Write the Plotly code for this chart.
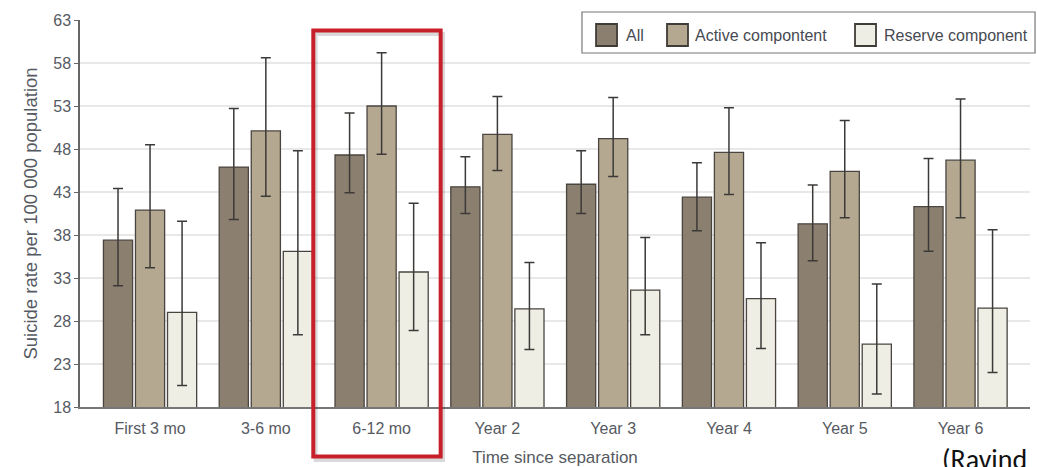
import plotly.graph_objects as go

categories = ["First 3 mo", "3-6 mo", "6-12 mo", "Year 2", "Year 3", "Year 4", "Year 5", "Year 6"]

all_vals = [37.4, 45.9, 47.3, 43.6, 43.9, 42.4, 39.3, 41.3]
all_hi = [43.4, 52.7, 52.2, 47.1, 47.8, 46.4, 43.8, 46.9]
all_lo = [32.1, 39.8, 42.9, 40.5, 40.5, 38.5, 35.0, 36.1]

active_vals = [40.9, 50.1, 53.0, 49.7, 49.2, 47.6, 45.4, 46.7]
active_hi = [48.5, 58.6, 59.2, 54.1, 54.0, 52.8, 51.3, 53.8]
active_lo = [34.2, 42.5, 47.4, 45.5, 44.8, 42.7, 40.0, 40.0]

reserve_vals = [29.0, 36.1, 33.7, 29.4, 31.6, 30.6, 25.3, 29.5]
reserve_hi = [39.6, 47.8, 41.7, 34.8, 37.7, 37.1, 32.3, 38.6]
reserve_lo = [20.5, 26.4, 26.9, 24.7, 26.4, 24.8, 19.5, 22.0]

y_ticks = [18, 23, 28, 33, 38, 43, 48, 53, 58, 63]

series_names = ["All", "Active compontent", "Reserve component"]
series_colors = ["#8b7f6f", "#b5a891", "#efeee4"]
series_data = [(all_vals, all_hi, all_lo), (active_vals, active_hi, active_lo), (reserve_vals, reserve_hi, reserve_lo)]

FONT = "Liberation Sans, Arial, sans-serif"
TXT = "#565a62"
EDGE = "#4a4540"

fig = go.Figure()
for name, col, (vals, hi, lo) in zip(series_names, series_colors, series_data):
    fig.add_trace(go.Bar(
        name=name, x=categories, y=vals, showlegend=False,
        marker=dict(color=col, line=dict(color=EDGE, width=1.3)),
        error_y=dict(type="data", symmetric=False,
                     array=[h - v for h, v in zip(hi, vals)],
                     arrayminus=[v - l for v, l in zip(vals, lo)],
                     color="#3c3a38", thickness=1.5, width=5),
    ))

fig.update_layout(
    width=1037, height=467,
    margin=dict(l=80, r=7, t=20, b=60.3),
    paper_bgcolor="white", plot_bgcolor="white",
    barmode="group", bargap=0.17, bargroupgap=0.09,
    font=dict(family=FONT, size=15, color=TXT),
    showlegend=False,
)

fig.update_xaxes(
    range=[-0.605, 7.6], showline=True, linecolor="#777777", linewidth=1.5,
    ticks="", showgrid=False, ticklabelstandoff=6, automargin=False,
    tickfont=dict(family=FONT, size=16, color=TXT),
    title=dict(text="Time since separation", font=dict(family=FONT, size=17, color=TXT), standoff=15),
)
fig.update_yaxes(
    range=[18, 63], tickvals=y_ticks, showline=True, linecolor="#666666", linewidth=1.5,
    ticks="outside", ticklen=4, tickcolor="#666666", automargin=False,
    showgrid=True, gridcolor="#e8e8e8", gridwidth=1.5, zeroline=False,
    tickfont=dict(family=FONT, size=16, color=TXT),
    title=dict(text="Suicide rate per 100 000 population", font=dict(family=FONT, size=18.5, color=TXT), standoff=11),
)

# custom legend (box, swatches, labels) in paper coordinates
fig.add_shape(type="rect", xref="paper", yref="paper", x0=0.5284, x1=1.0053, y0=0.9147, y1=1.0207,
              line=dict(color="#777777", width=1.2), fillcolor="white", layer="above")
legend_swatch_x = [(0.5432, 0.5653), (0.6179, 0.6400), (0.8158, 0.8379)]
legend_text_x = [0.5726, 0.6453, 0.8442]
for name, col, (sx0, sx1), tx in zip(series_names, series_colors, legend_swatch_x, legend_text_x):
    fig.add_shape(type="rect", xref="paper", yref="paper", x0=sx0, x1=sx1, y0=0.9328, y1=0.9897,
                  line=dict(color="#3f3b37", width=1.8), fillcolor=col, layer="above")
    fig.add_annotation(text=name, xref="paper", yref="paper", x=tx, y=0.9612, xanchor="left", yanchor="middle",
                       showarrow=False, font=dict(family=FONT, size=16, color="#474a52"))

# highlight box around 6-12 mo (with soft shadow)
fig.add_shape(type="rect", xref="x", yref="paper", x0=1.43, x1=2.53, y0=-0.137, y1=0.964,
              line=dict(color="rgba(0,0,0,0.15)", width=4), layer="above")
fig.add_shape(type="rect", xref="x", yref="paper", x0=1.41, x1=2.51, y0=-0.128, y1=0.973,
              line=dict(color="#c8202a", width=4), layer="above")

fig.add_annotation(text="(Ravind", xref="paper", yref="paper", x=0.905, y=-0.085, xanchor="left", yanchor="top",
                   showarrow=False, font=dict(family="Carlito, Liberation Sans, sans-serif", size=28, color="#111111"))

fig.write_html("out.html", config={"displayModeBar": False},
               post_script="document.body.style.margin='0';")
